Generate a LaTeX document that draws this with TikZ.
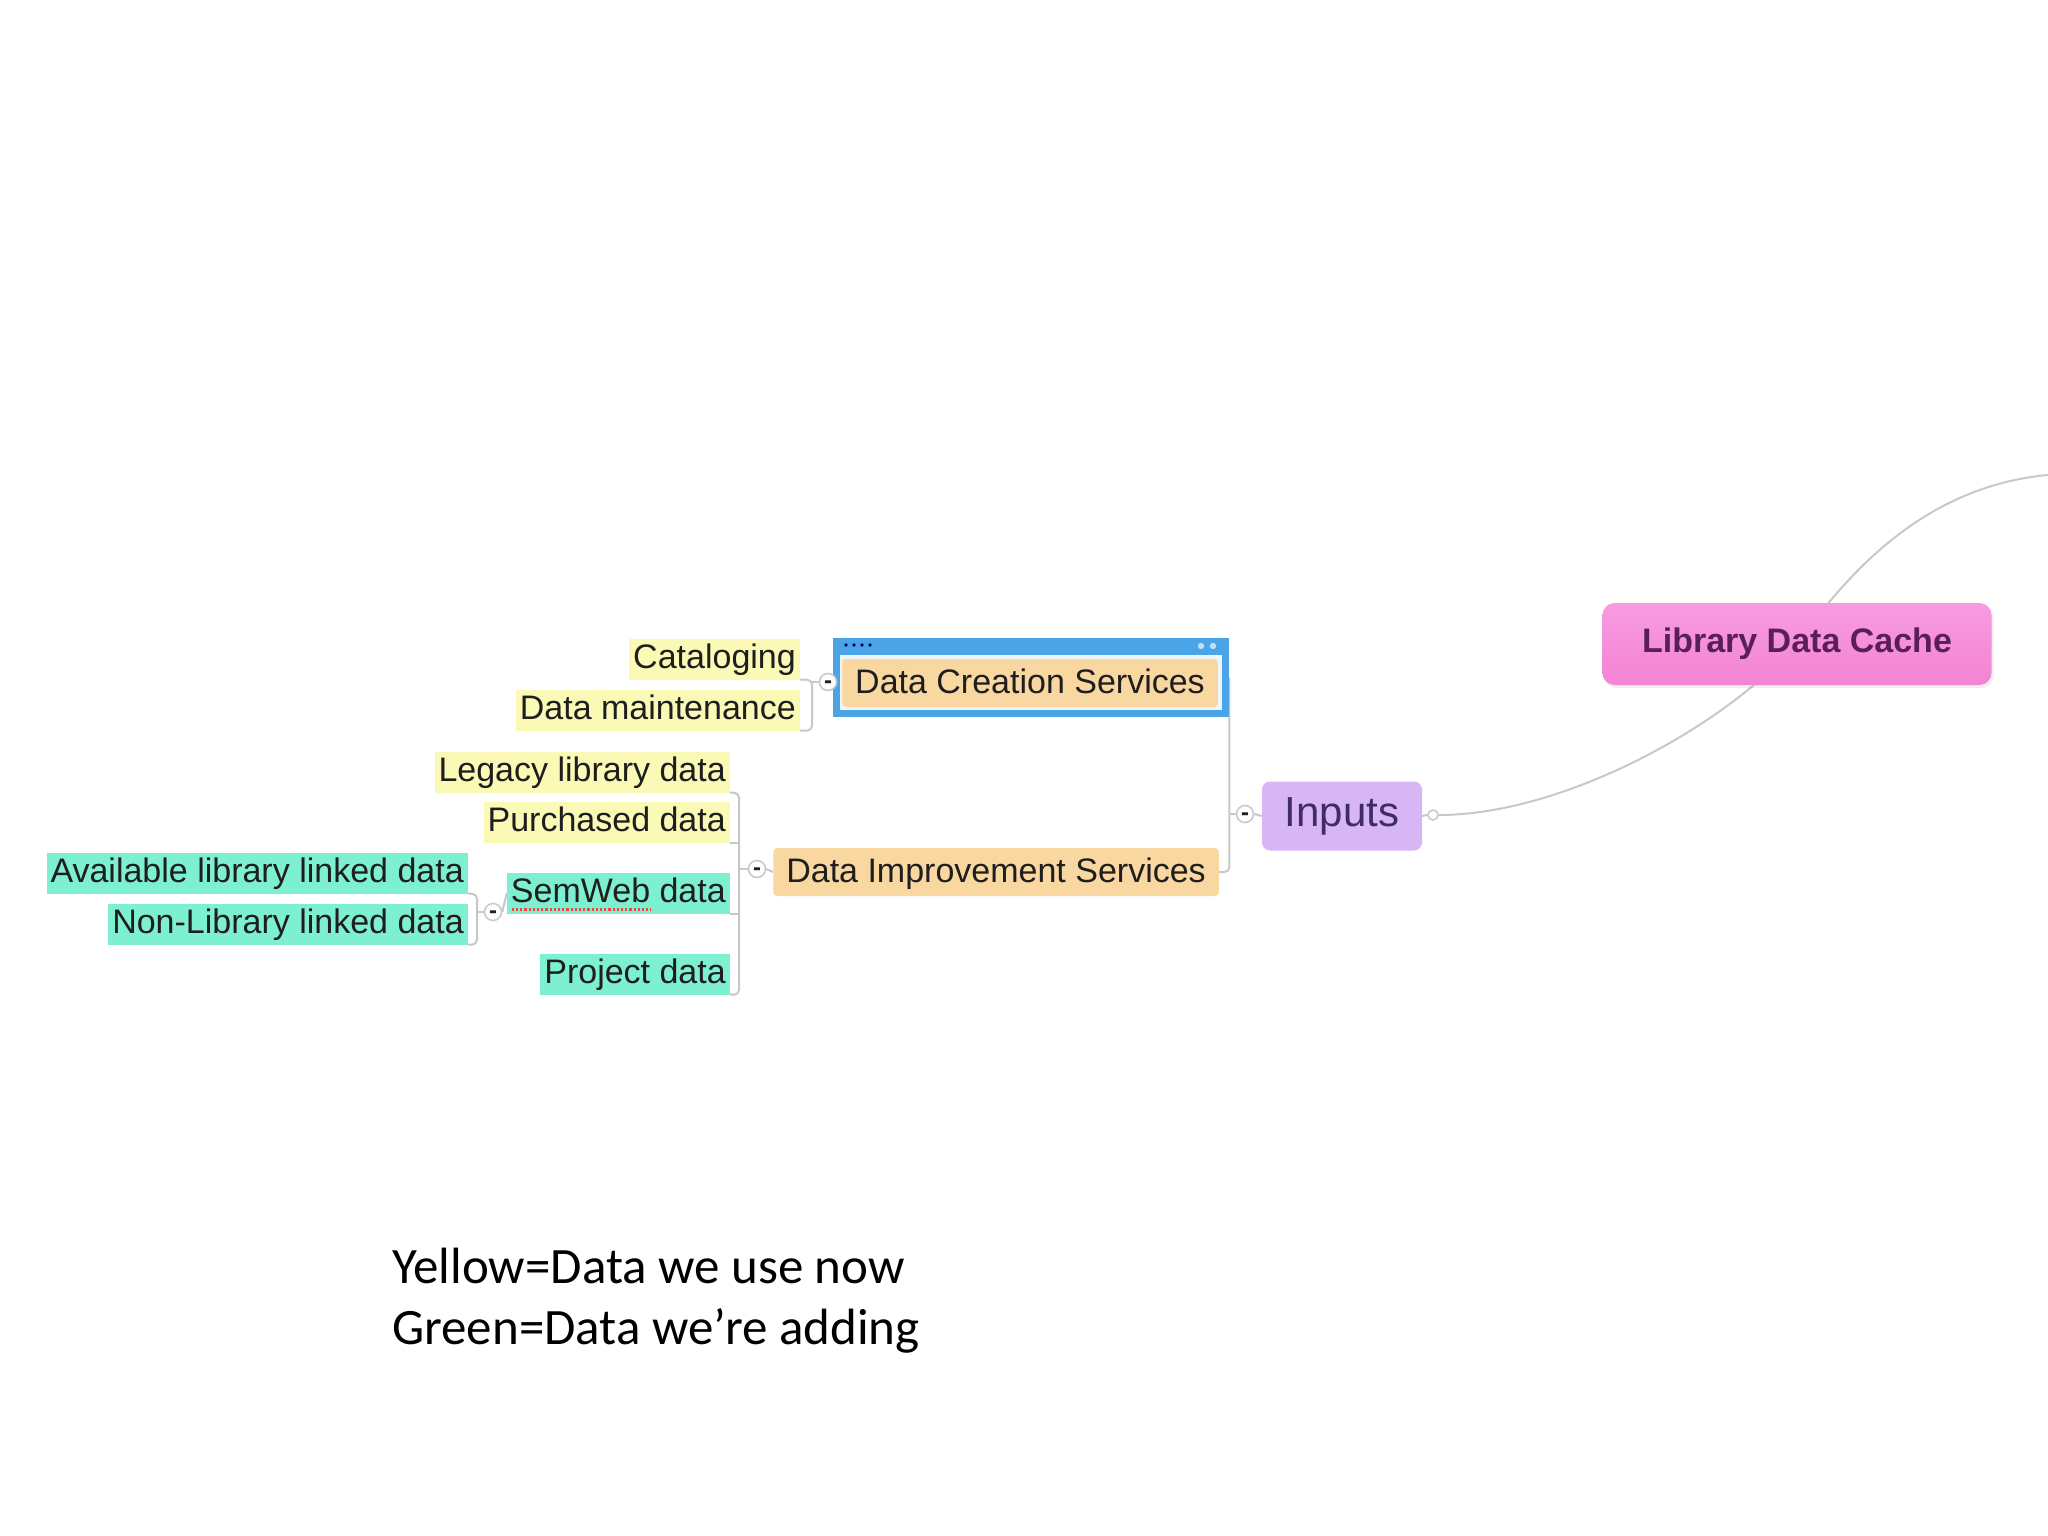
\documentclass[tikz,border=0pt]{standalone}
\usepackage{fontspec}
\setmainfont{Liberation Sans}
\newfontfamily\legendfont{Carlito}
\usetikzlibrary{calc,shadows}
\pgfdeclarelayer{background}
\pgfsetlayers{background,main}
\definecolor{ylw}{HTML}{FAF9B6}
\definecolor{grn}{HTML}{7EF0D2}
\definecolor{org}{HTML}{F9D7A0}
\definecolor{pnktop}{HTML}{F79CE0}
\definecolor{pnkbot}{HTML}{F483D4}
\definecolor{lav}{HTML}{D8B6F6}
\definecolor{selblue}{HTML}{4BA4E6}
\definecolor{selinner}{HTML}{EAF5FC}
\definecolor{conncol}{HTML}{C8C8C8}
\definecolor{txt}{HTML}{1E1E1E}
\definecolor{cachetxt}{HTML}{5A1E5C}
\definecolor{inptxt}{HTML}{3F2C62}
\tikzset{
  leaf/.style={font=\fontsize{34}{40}\selectfont, text=txt, inner xsep=4pt, inner ysep=2pt, text height=28pt, text depth=9pt, anchor=east},
  oldleaf/.style={leaf, fill=ylw},
  newleaf/.style={leaf, fill=grn},
  svc/.style={font=\fontsize{34}{40}\selectfont, text=txt, fill=org, rounded corners=4pt, inner xsep=13pt, inner ysep=6pt, text height=28pt, text depth=8pt, anchor=east},
  tog/.style={circle, draw=conncol, fill=white, line width=1.5pt, minimum size=17pt, inner sep=0pt, text=txt, text height=13pt, text depth=0pt, font=\bfseries\fontsize{24}{24}\selectfont},
  conn/.style={draw=conncol, line width=2pt, rounded corners=5pt}
}
\begin{document}
\begin{tikzpicture}[x=1pt,y=-1pt]
\useasboundingbox (0,0) rectangle (2048,1536);

% central topic and main branch
\node[top color=pnktop, bottom color=pnkbot, rounded corners=12pt, minimum width=389pt, minimum height=82pt,
      drop shadow={opacity=0.12, shadow xshift=2pt, shadow yshift=-3pt},
      font=\bfseries\fontsize{34}{40}\selectfont, text=cachetxt] (cache) at (1797,644) {Library Data Cache};
\node[fill=lav, rounded corners=8pt, minimum width=160pt, minimum height=69pt,
      font=\fontsize{42}{48}\selectfont, text=inptxt] (inputs) at (1342,816) {Inputs};
\node[circle, draw=conncol, fill=white, line width=1.5pt, minimum size=10pt, inner sep=0pt] (handle) at (1433,815) {};
\coordinate (offpage) at (2062,474);

% selected Data Creation Services with its frame
\node[fill=selblue, minimum width=396pt, minimum height=79pt, inner sep=0pt, anchor=north west] (dcsf) at (833,638) {};
\fill[selinner] (840,655) rectangle (1222,710);
\foreach \dx in {846,854,862,870} \fill[blue!55!black] (\dx,645) circle (1.8);
\fill[selblue!35!white] (1201,646) circle (3.2);
\fill[selblue!35!white] (1213,646) circle (3.2);
\node[svc] (dcs) at (1218,683) {Data Creation Services};
\node[svc] (dis) at (1219,872) {Data Improvement Services};

% leaves
\node[oldleaf] (cat) at (800,659) {Cataloging};
\node[oldleaf] (maint) at (800,710) {Data maintenance};
\node[oldleaf] (legacy) at (730,772) {Legacy library data};
\node[oldleaf] (purch) at (730,822) {Purchased data};
\node[newleaf] (semweb) at (730,893) {SemWeb data};
\node[newleaf] (project) at (730,974) {Project data};
\node[newleaf] (avail) at (468,873) {Available library linked data};
\node[newleaf] (nonlib) at (468,924) {Non-Library linked data};
\draw[red!75, dotted, line width=2.2pt] ($(semweb.base west)+(5,7)$) -- ($(semweb.base west)+(144,7)$);

% collapse toggles
\node[tog] (t1) at (1245,814) {-};
\node[tog] (t2) at (828,682) {-};
\node[tog] (t3) at (757,869) {-};
\node[tog] (t4) at (493,912) {-};

% legend
\node[font=\legendfont\fontsize{51}{61}\selectfont, align=left, anchor=north west, inner sep=0pt, text=black] (legend) at (392,1248)
  {Yellow=Data we use now\\Green=Data we’re adding};

\begin{pgfonlayer}{background}
  \fill[white] (0,0) rectangle (2048,1536);
  \draw[conn] (inputs.east) -- (handle.west);
  \draw[conn] (handle.east) .. controls (1560,815) and (1720,730) .. (cache.center);
  \draw[conn] (cache.center) .. controls (1850,570) and (1930,480) .. (offpage);
  % Inputs bracket
  \draw[conn] (dcsf.east) -- (dcsf.east |- dis.east) -- (dis.east);
  \draw[conn] (t1.west) -- (t1.west -| dcsf.east);
  \draw[conn] (t1.east) -- (inputs.west);
  % DCS bracket
  \coordinate (b2) at ($(maint.south east)+(12,0)$);
  \draw[conn] (cat.south east) -| (b2) -- (maint.south east);
  \draw[conn] (t2.west) -- (t2.west -| b2);
  \draw[conn] (t2.east) -- (dcsf.west);
  % DIS bracket
  \coordinate (b3) at ($(project.south east)+(9,0)$);
  \draw[conn] (legacy.south east) -| (b3) -- (project.south east);
  \draw[conn] (purch.south east) -- (purch.south east -| b3);
  \draw[conn] (semweb.south east) -- (semweb.south east -| b3);
  \draw[conn] (t3.west) -- (t3.west -| b3);
  \draw[conn] (t3.east) -- (dis.west);
  % SemWeb bracket
  \coordinate (b4) at ($(nonlib.south east)+(9,0)$);
  \draw[conn] (avail.south east) -| (b4) -- (nonlib.south east);
  \draw[conn] (t4.west) -- (t4.west -| b4);
  \draw[conn] (t4.east) -- (semweb.west);
\end{pgfonlayer}
\end{tikzpicture}
\end{document}
